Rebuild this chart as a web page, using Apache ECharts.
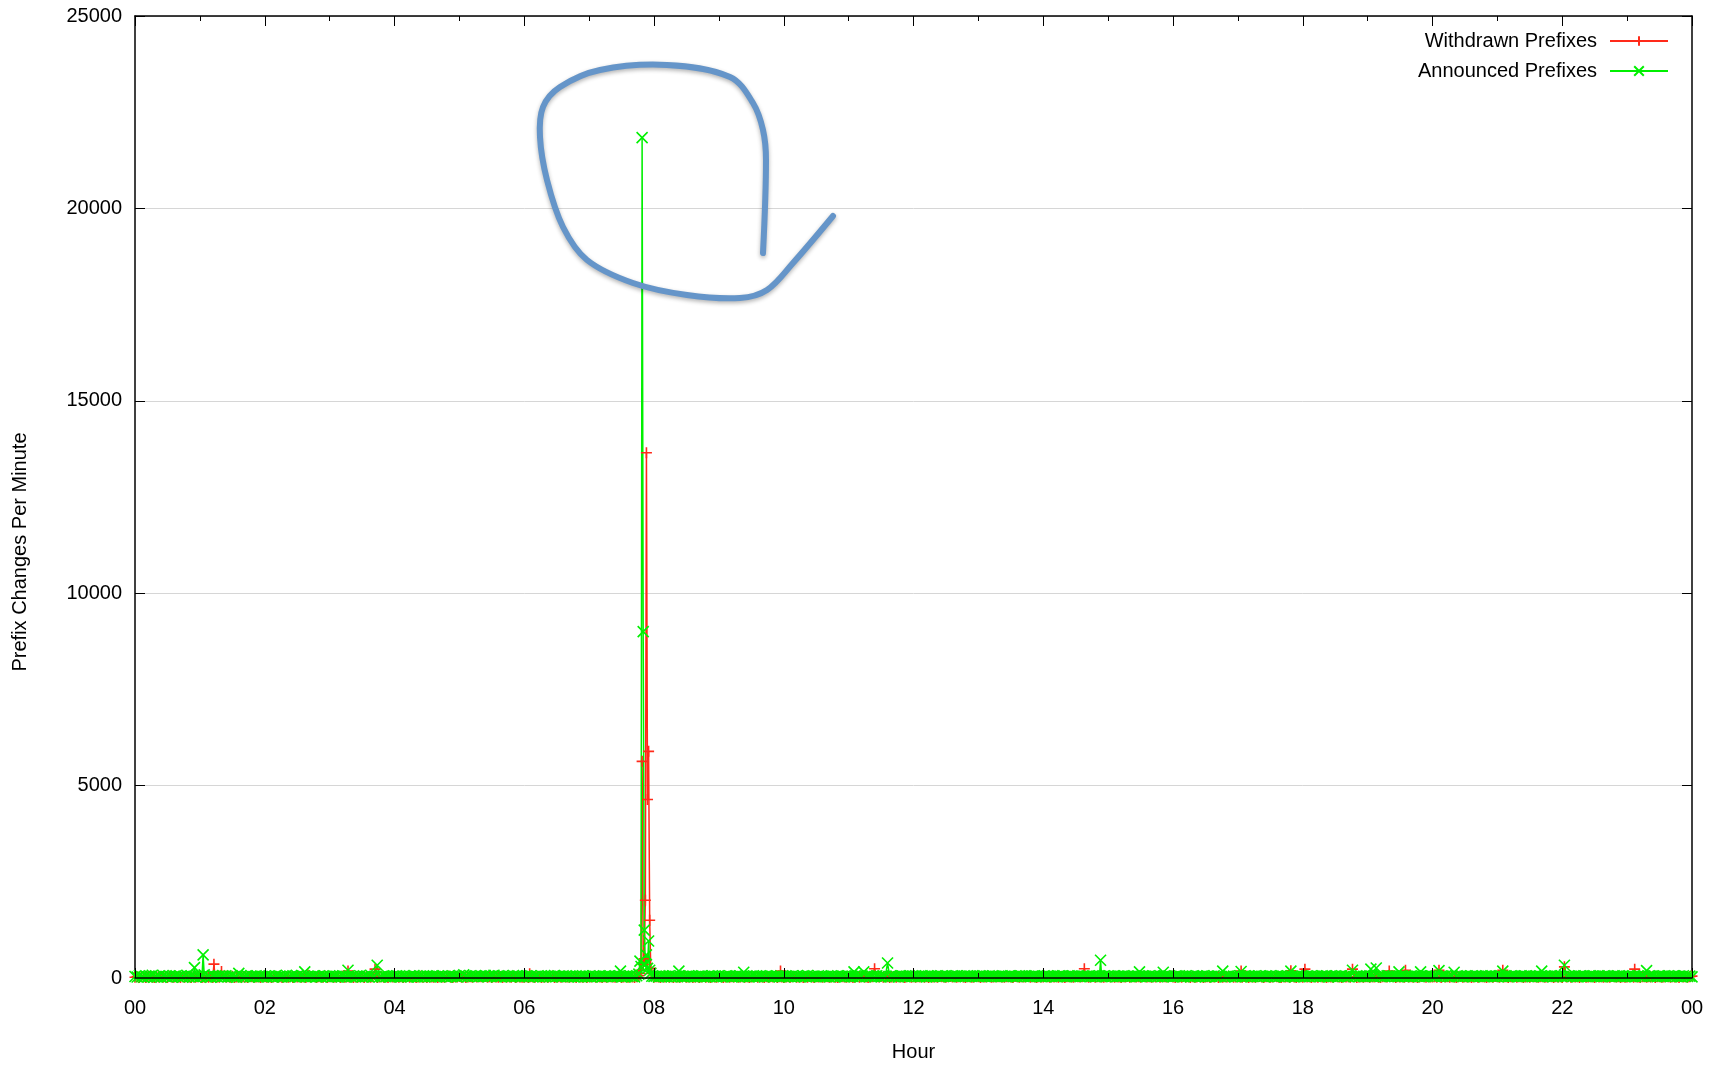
<!DOCTYPE html>
<html><head><meta charset="utf-8">
<script src="https://cdn.jsdelivr.net/npm/echarts@6/dist/echarts.min.js"></script>
<style>html,body{margin:0;padding:0;background:#fff}#c{width:1723px;height:1067px}</style>
</head><body><div id="c"></div><script>
// ---- data ----
const hourLabels = ['00','02','04','06','08','10','12','14','16','18','20','22','00'];
const seriesNames = ['Withdrawn Prefixes', 'Announced Prefixes'];
const baseStepMinutes = 2; // baseline sampled every 2 minutes (one row = one hour)
const announcedBase = [
40,25,60,35,20,55,30,45,70,25,35,50,20,65,40,30,55,25,45,60,35,50,20,45,70,30,55,40,25,60,
35,45,80,30,50,20,65,40,35,55,30,45,60,25,40,55,35,20,50,65,30,40,55,25,45,35,60,30,50,40,
45,30,55,40,25,60,35,50,30,45,70,25,40,55,35,50,30,65,40,25,50,35,40,60,30,45,25,55,40,35,
60,30,50,45,25,40,55,35,30,60,35,55,30,45,60,25,40,50,35,70,30,45,55,25,40,60,35,50,30,45,
40,60,35,25,50,45,30,55,40,65,35,25,50,40,30,60,45,35,55,40,45,30,60,40,25,55,35,50,45,30,
65,40,80,55,35,60,40,45,50,35,55,40,65,35,50,45,70,30,55,40,60,35,45,50,30,65,40,55,35,45,
40,55,35,60,30,45,50,25,60,40,35,55,45,30,65,40,50,35,55,45,35,50,40,25,55,30,45,60,35,40,
50,30,55,45,35,60,30,45,40,50,45,35,55,40,60,30,50,35,45,55,40,30,60,45,35,50,40,55,30,45,
40,50,30,45,55,35,40,60,30,50,45,35,55,40,30,45,60,35,50,40,35,45,55,30,40,50,35,60,45,30,
55,40,35,50,45,60,30,40,55,35,50,40,35,55,30,45,60,40,35,50,45,30,55,40,60,35,45,50,30,40,
45,55,35,40,60,30,50,45,35,55,40,65,30,45,50,35,60,40,45,35,40,30,55,45,35,60,40,50,30,45,
55,35,40,60,45,30,50,40,35,55,50,45,35,60,40,30,55,45,50,35,60,40,45,30,55,50,35,45,60,40,
45,60,40,35,55,45,30,50,60,40,45,55,35,50,40,60,45,35,55,50,55,40,50,45,35,60,50,40,55,45,
35,50,60,40,45,55,35,50,45,40,40,55,45,35,50,60,40,45,35,55,50,40,60,45,35,50,55,40,45,35,
50,35,60,45,40,55,35,50,45,60,40,35,55,50,45,40,60,35,50,45,45,50,40,55,35,45,60,40,50,35,
55,45,40,60,35,50,45,55,40,50,40,45,55,35,50,40,60,45,35,55,40,50,45,35,60,40,55,45,50,40,
30,50,45,60,40,35,55,45,30,50,40,60,35,45,55,30,50,40,45,60,35,50,40,55,30,45,60,40,50,35,
45,60,35,50,40,55,30,45,60,35,50,45,40,55,35,60,45,30,50,40,55,45,35,60,40,50,30,45,55,40,
50,40,55,35,60,45,40,50,35,55,45,60,30,50,40,55,35,45,60,40,50,35,55,45,40,60,35,50,45,40,
40,55,45,35,50,60,40,45,35,55,50,40,60,45,35,50,55,40,45,35,50,35,60,45,40,55,35,50,45,60,
45,40,55,35,50,45,60,40,35,55,45,50,40,60,35,45,55,40,50,35,60,45,40,55,35,50,45,60,40,50,
35,55,45,40,60,35,50,45,55,40,35,60,45,50,40,55,35,45,60,40,50,35,55,45,40,60,35,50,45,55,
40,50,35,60,45,40,55,35,50,45,60,40,35,55,50,45,40,60,35,50,45,55,40,35,60,45,50,40,55,35,
45,55,40,50,35,60,45,40,55,35,50,45,60,40,35,55,45,50,40,60,35,45,55,40,50,35,60,45,40,50
];
const withdrawnBase = [
20,35,15,40,25,10,30,45,20,15,35,25,40,20,30,15,45,25,20,35,25,15,30,20,40,25,15,35,20,30,
45,15,25,35,20,30,15,40,25,20,15,30,25,35,20,45,15,25,30,20,35,25,15,40,30,20,25,35,15,30,
30,20,35,15,25,40,20,30,15,35,25,20,40,15,30,25,35,20,30,15,20,25,40,30,15,35,25,20,45,15,
30,35,20,25,40,15,30,20,35,25,35,15,25,20,40,30,15,35,25,20,30,40,15,25,35,20,30,15,40,25,
25,30,20,35,15,25,40,20,30,35,15,25,45,20,30,15,35,25,20,30,15,35,25,20,30,45,20,15,35,25,
40,20,30,15,25,35,20,40,25,30,30,25,40,20,35,15,30,25,20,40,15,35,25,30,20,45,15,30,25,20,
20,30,15,35,25,20,40,30,15,25,35,20,30,45,15,25,30,20,35,25,25,20,35,30,15,40,25,20,30,15,
35,25,40,20,30,25,15,35,20,30,35,25,20,30,40,15,25,35,20,30,25,15,35,40,20,25,30,15,25,35,
20,35,25,15,30,25,40,20,35,15,30,25,20,35,45,20,25,30,15,25,30,15,25,40,20,30,15,35,25,20,
40,30,15,25,35,20,30,25,40,20,25,30,20,35,15,25,30,40,20,35,25,15,30,20,35,25,40,15,30,25,
15,25,35,20,30,40,20,25,35,15,30,20,40,25,15,35,25,30,20,35,30,20,25,35,20,15,40,30,25,20,
35,30,15,25,40,20,30,35,25,15,25,35,15,30,25,40,20,35,30,15,25,40,20,30,25,35,15,30,40,20,
35,20,30,25,40,20,30,15,35,25,30,20,40,35,25,20,30,40,25,30,20,30,40,25,15,35,30,20,25,40,
30,15,35,25,30,40,20,25,35,30,30,25,20,35,30,25,15,40,30,20,35,25,30,40,20,35,25,15,30,25,
25,40,30,20,35,25,30,20,40,25,15,35,30,25,20,40,30,25,35,20,35,20,25,40,20,30,35,25,20,30,
40,25,35,20,30,25,15,35,25,40,20,30,35,25,30,20,40,30,25,35,20,30,25,40,20,30,35,25,30,45,
25,15,35,30,20,40,25,30,15,35,20,25,40,30,15,25,35,20,30,25,40,15,30,20,35,25,30,40,20,25,
30,25,20,40,30,15,35,25,20,30,40,25,15,35,30,20,25,40,30,20,15,35,25,30,20,40,25,15,35,30,
20,40,25,30,15,35,30,20,40,25,30,15,35,25,20,40,30,25,15,35,25,30,20,40,30,15,25,35,20,30,
35,20,30,25,40,20,15,35,30,25,20,40,30,15,35,25,30,20,40,25,30,20,35,15,25,40,30,20,35,25,
25,35,20,30,15,40,25,30,20,35,25,15,30,40,20,35,25,30,15,25,40,20,30,35,25,15,35,30,20,40,
30,20,40,25,35,15,30,25,40,20,35,30,15,25,35,20,40,30,25,20,30,35,20,25,40,30,15,35,25,30,
15,35,25,40,20,30,25,35,15,30,40,20,25,35,30,15,40,25,30,20,35,25,20,40,30,25,35,15,30,20,
25,30,40,20,35,25,15,30,35,20,30,25,40,15,30,35,20,25,40,30,20,35,25,30,15,40,25,30,20,35
];
// minute-of-day and value of readable points above the baseline
const announcedPeakMinutes = [55,63,96,157,197,224,449,466,467,468,469,470,471,472,473,474,475,476,477,503,563,665,674,696,893,929,951,1006,1023,1069,1126,1143,1148,1169,1189,1206,1220,1265,1301,1322,1398,1440];
const announcedPeakValues  = [270,600,120,160,200,330,180,100,440,300,21840,9000,1245,350,600,250,960,200,120,180,150,160,160,390,460,160,150,180,170,180,200,230,260,160,160,190,150,180,180,330,190,30];
const withdrawnPeakMinutes = [73,80,160,197,222,365,466,467,468,469,470,471,472,473,474,475,476,477,478,597,684,878,1023,1069,1082,1126,1160,1175,1206,1265,1322,1387,1440];
const withdrawnPeakValues  = [360,170,80,180,230,110,60,120,200,5630,350,500,2020,13650,4640,5890,1500,250,120,180,240,240,180,190,230,230,180,200,200,200,290,230,50];

function buildSeries(base, peakMin, peakVal) {
  const m = new Map();
  base.forEach((v, i) => m.set(i * baseStepMinutes, v));
  peakMin.forEach((t, i) => m.set(t, peakVal[i]));
  return Array.from(m.entries()).sort((a, b) => a[0] - b[0]);
}
const withdrawnData = buildSeries(withdrawnBase, withdrawnPeakMinutes, withdrawnPeakValues);
const announcedData = buildSeries(announcedBase, announcedPeakMinutes, announcedPeakValues);

// ---- chart ----
const RED = '#ff2a1a', GREEN = '#00f000', FONT = '"Liberation Sans", Arial, Helvetica, sans-serif';
const FS = 20;
const plusPath = 'path://M0,5L10,5M5,0L5,10';
const crossPath = 'path://M0,0L10,10M10,0L0,10';
const axisLineStyle = {show: true, onZero: false, lineStyle: {color: '#000', width: 1.5}};
const tickStyle = {show: true, inside: true, length: 10, lineStyle: {color: '#000', width: 1}};
const minorTickStyle = {show: true, splitNumber: 2, length: 5, lineStyle: {color: '#000', width: 1}};
const legendCommon = {orient: 'vertical', align: 'right', itemWidth: 58, itemHeight: 12, padding: 0, right: 54, selectedMode: false,
  textStyle: {fontSize: FS, color: '#000', fontFamily: FONT, padding: [0, 8, 0, 0]}};

const chart = echarts.init(document.getElementById('c'), null, {renderer: 'canvas'});
chart.setOption({
  animation: false,
  backgroundColor: '#fff',
  textStyle: {fontFamily: FONT},
  grid: {left: 135, right: 31, top: 16, bottom: 87, containLabel: false},
  legend: [
    Object.assign({}, legendCommon, {data: [seriesNames[0]], top: 31}),
    Object.assign({}, legendCommon, {data: [seriesNames[1]], top: 61})
  ],
  xAxis: [
    {type: 'value', min: 0, max: 1440, interval: 120, position: 'bottom', z: 10,
     axisLine: axisLineStyle, axisTick: tickStyle, minorTick: minorTickStyle,
     axisLabel: {fontSize: FS, color: '#000', margin: 20, fontFamily: FONT,
       formatter: v => hourLabels[Math.round(v / 120)]},
     splitLine: {show: false}, minorSplitLine: {show: false},
     name: 'Hour', nameLocation: 'middle', nameGap: 64,
     nameTextStyle: {fontSize: FS, color: '#000', fontFamily: FONT}},
    {type: 'value', min: 0, max: 1440, interval: 120, position: 'top',
     axisLine: axisLineStyle, axisTick: tickStyle, minorTick: minorTickStyle,
     axisLabel: {show: false}, splitLine: {show: false}}
  ],
  yAxis: [
    {type: 'value', min: 0, max: 25000, interval: 5000, position: 'left',
     axisLine: axisLineStyle, axisTick: tickStyle,
     axisLabel: {fontSize: FS, color: '#000', margin: 13, fontFamily: FONT, formatter: v => String(v)},
     splitLine: {show: true, lineStyle: {color: '#d6d6d6', width: 1}}},
    {type: 'value', min: 0, max: 25000, interval: 5000, position: 'right',
     axisLine: axisLineStyle, axisTick: tickStyle,
     axisLabel: {show: false}, splitLine: {show: false}}
  ],
  series: [
    {name: seriesNames[0], type: 'line', xAxisIndex: 0, yAxisIndex: 0, data: withdrawnData,
     symbol: plusPath, symbolSize: 11, showSymbol: true, showAllSymbol: true,
     lineStyle: {color: RED, width: 1.5}, itemStyle: {color: RED, borderColor: RED, borderWidth: 1.6},
     emphasis: {disabled: true}, silent: true},
    {name: seriesNames[1], type: 'line', xAxisIndex: 0, yAxisIndex: 0, data: announcedData,
     symbol: crossPath, symbolSize: 11, showSymbol: true, showAllSymbol: true,
     lineStyle: {color: GREEN, width: 1.5}, itemStyle: {color: GREEN, borderColor: GREEN, borderWidth: 1.6},
     emphasis: {disabled: true}, silent: true}
  ],
  graphic: [
    {type: 'text', x: 20, y: 552, rotation: Math.PI / 2,
     style: {text: 'Prefix Changes Per Minute', fill: '#000', font: FS + 'px ' + FONT,
       align: 'center', verticalAlign: 'middle', textAlign: 'center', textVerticalAlign: 'middle'}},
    {type: 'polyline', z: 100, silent: true,
     shape: {smooth: 0.35, points: [
       [763,253],[766,160],[763,130],[753,103],[730,77],[667,65],[600,70],[560,87],[543,107],
       [540,137],[547,180],[563,227],[587,260],[633,283],[687,295],[740,298],[767,290],[793,263],[833,216]]},
     style: {stroke: '#6595c9', lineWidth: 6, fill: null, lineCap: 'round', lineJoin: 'round',
       shadowBlur: 4, shadowColor: 'rgba(0,0,0,0.3)', shadowOffsetY: 2}}
  ]
});
</script></body></html>
